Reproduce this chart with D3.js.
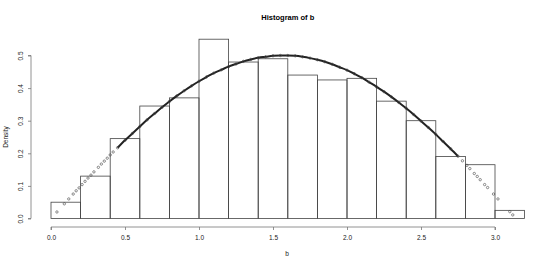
<!DOCTYPE html>
<html lang="en">
<head>
  <meta charset="UTF-8">
  <title>Histogram of b</title>
  <style>
    body {
      margin: 0;
      background: #fff;
      font-family: "Liberation Sans", Arial, sans-serif;
    }
    svg { display: block; }
  </style>
</head>
<body>
  <script src="https://d3js.org/d3.v7.min.js"></script>
  <script>
    // histogram bins (width 0.2) and their densities
    const binStarts = [0, 0.2, 0.4, 0.6, 0.8, 1.0, 1.2, 1.4, 1.6, 1.8, 2.0, 2.2, 2.4, 2.6, 2.8, 3.0];
    const densities = [0.05, 0.13, 0.245, 0.345, 0.37, 0.55, 0.48, 0.49, 0.44, 0.425, 0.43, 0.36, 0.3, 0.19, 0.165, 0.025];
    const binWidth = 0.2;

    // points drawn over the histogram (b, density)
    const pointB = [0.04, 0.09, 0.12, 0.15, 0.17, 0.19, 0.21, 0.23, 0.25, 0.27, 0.29, 0.32, 0.34, 0.36, 0.38, 0.40, 0.42,
      0.45, 0.50, 0.55, 0.60, 0.65, 0.70, 0.75, 0.80, 0.85, 0.90, 0.95, 1.00, 1.05, 1.10, 1.15, 1.20, 1.25, 1.30,
      1.35, 1.40, 1.45, 1.50, 1.55, 1.60, 1.65, 1.70, 1.75, 1.80, 1.85, 1.90, 1.95, 2.00, 2.05, 2.10, 2.15, 2.20,
      2.25, 2.30, 2.35, 2.40, 2.45, 2.50, 2.55, 2.60, 2.65, 2.70, 2.75,
      2.78, 2.81, 2.83, 2.86, 2.88, 2.90, 2.93, 2.95, 2.99, 3.02, 3.10, 3.12];
    const pointD = [0.020, 0.045, 0.060, 0.075, 0.085, 0.094, 0.104, 0.114, 0.124, 0.133, 0.143, 0.157, 0.167, 0.176, 0.185, 0.195, 0.204,
      0.217, 0.240, 0.261, 0.282, 0.303, 0.322, 0.341, 0.359, 0.376, 0.392, 0.407, 0.421, 0.434, 0.446, 0.456, 0.466, 0.474, 0.482,
      0.488, 0.493, 0.496, 0.499, 0.500, 0.500, 0.499, 0.496, 0.492, 0.487, 0.481, 0.473, 0.464, 0.455, 0.444, 0.432, 0.418, 0.404,
      0.389, 0.373, 0.356, 0.338, 0.319, 0.299, 0.279, 0.258, 0.236, 0.214, 0.191,
      0.177, 0.163, 0.153, 0.138, 0.129, 0.119, 0.104, 0.095, 0.075, 0.060, 0.021, 0.011];
    const denseFrom = 0.45, denseTo = 2.75;

    const xTicks = [0.0, 0.5, 1.0, 1.5, 2.0, 2.5, 3.0];
    const yTicks = [0.0, 0.1, 0.2, 0.3, 0.4, 0.5];

    const width = 560, height = 267;

    const x = d3.scaleLinear().domain([0, 3.2]).range([51, 51 + 3.2 * 148]);
    const y = d3.scaleLinear().domain([0, 0.5]).range([218.5, 55.5]);

    const svg = d3.select('body').append('svg')
      .attr('width', width)
      .attr('height', height);

    // bars
    const bins = binStarts.map((s, i) => ({ x0: s, x1: s + binWidth, d: densities[i] }));
    svg.selectAll('rect.bar')
      .data(bins)
      .enter().append('rect')
        .attr('class', 'bar')
        .attr('x', d => x(d.x0))
        .attr('y', d => y(d.d))
        .attr('width', d => x(d.x1) - x(d.x0))
        .attr('height', d => y(0) - y(d.d))
        .attr('fill', 'none')
        .attr('stroke', '#444')
        .attr('stroke-width', 0.8);

    // points: the dense middle overlaps into a thick band
    const pts = pointB.map((b, i) => ({ b, d: pointD[i] }));
    const dense = pts.filter(p => p.b >= denseFrom && p.b <= denseTo);
    svg.append('path')
      .datum(dense)
      .attr('fill', 'none')
      .attr('stroke', '#222')
      .attr('stroke-width', 2)
      .attr('d', d3.line().x(p => x(p.b)).y(p => y(p.d)).curve(d3.curveMonotoneX));

    svg.selectAll('circle.pt')
      .data(pts)
      .enter().append('circle')
        .attr('class', 'pt')
        .attr('cx', p => x(p.b))
        .attr('cy', p => y(p.d))
        .attr('r', 1.2)
        .attr('fill', 'none')
        .attr('stroke', '#444')
        .attr('stroke-width', 0.6);

    // x axis
    const xAxis = svg.append('g')
      .attr('transform', 'translate(0,227)')
      .call(d3.axisBottom(x).tickValues(xTicks).tickSize(3).tickPadding(5)
        .tickFormat(d3.format('.1f')));
    xAxis.select('.domain').attr('d', `M${x(0)},3V0H${x(3)}V3`);

    // y axis
    const yAxis = svg.append('g')
      .attr('transform', 'translate(31,0)')
      .call(d3.axisLeft(y).tickValues(yTicks).tickSize(3).tickPadding(5)
        .tickFormat(d3.format('.1f')));
    yAxis.select('.domain').attr('d', `M-3,${y(0)}H0V${y(0.5)}H-3`);
    yAxis.selectAll('.tick text')
      .attr('transform', 'rotate(-90)')
      .attr('x', 0)
      .attr('y', -8)
      .attr('text-anchor', 'middle')
      .attr('dy', 0);

    svg.selectAll('.domain, .tick line').attr('stroke', '#777').attr('stroke-width', 0.8);
    svg.selectAll('.tick text')
      .attr('fill', '#222')
      .style('font-size', '6.5px')
      .style('font-family', '"Liberation Sans", Arial, sans-serif');

    // labels
    svg.append('text')
      .attr('x', (x.range()[0] - 19 + x.range()[1] + 19) / 2)
      .attr('y', 20)
      .attr('text-anchor', 'middle')
      .style('font-size', '7.5px')
      .style('font-weight', 'bold')
      .text('Histogram of b');

    svg.append('text')
      .attr('x', 287)
      .attr('y', 256)
      .attr('text-anchor', 'middle')
      .attr('fill', '#222')
      .style('font-size', '6.5px')
      .text('b');

    svg.append('text')
      .attr('transform', `translate(8,${(y(0) + y(0.5)) / 2}) rotate(-90)`)
      .attr('text-anchor', 'middle')
      .attr('fill', '#222')
      .style('font-size', '6.5px')
      .text('Density');
  </script>
</body>
</html>
